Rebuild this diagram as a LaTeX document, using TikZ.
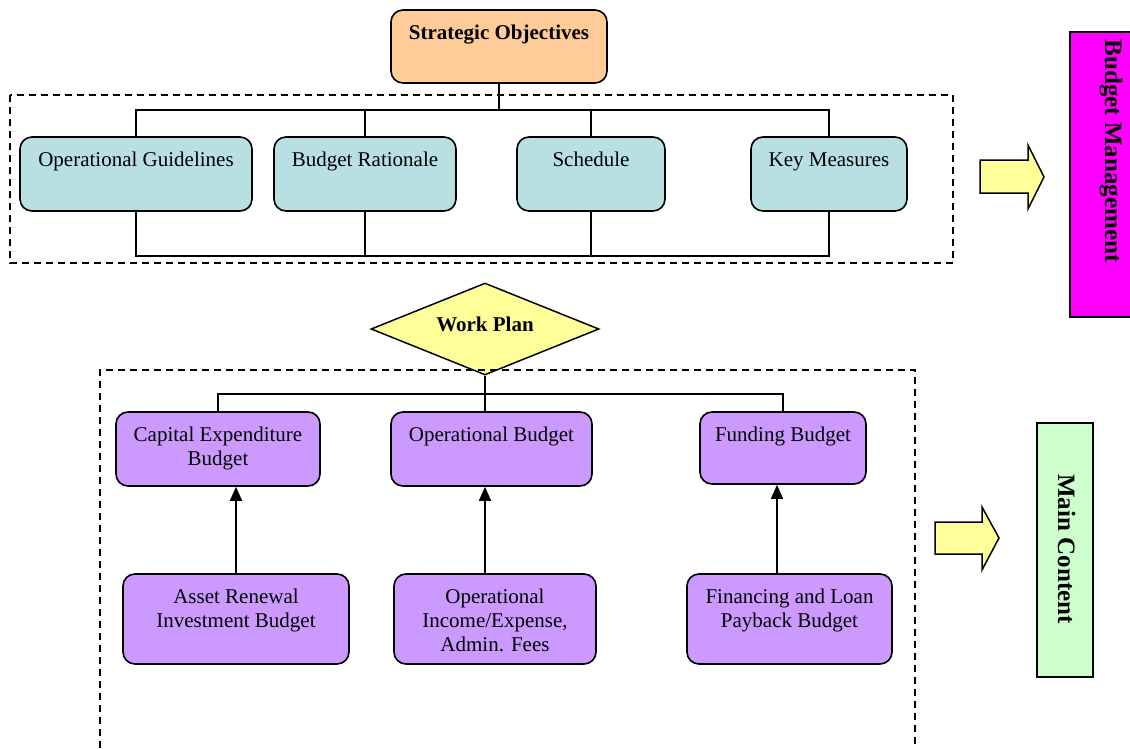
\documentclass[tikz,border=0pt]{standalone}
\usepackage{fontspec}
\setmainfont{Liberation Serif}
\usetikzlibrary{shapes.geometric,arrows.meta}
\definecolor{soorange}{RGB}{255,204,153}
\definecolor{paleteal}{RGB}{184,223,226}
\definecolor{lilac}{RGB}{204,153,255}
\definecolor{paleyellow}{RGB}{255,255,153}
\definecolor{vividmagenta}{RGB}{255,0,255}
\definecolor{mint}{RGB}{204,255,204}

\begin{document}
\begin{tikzpicture}[x=1pt,y=-1pt,
  every node/.style={font=\fontsize{21}{24}\selectfont},
  box/.style={draw, line width=1.6pt, rounded corners=12pt, inner sep=0pt},
  objbox/.style={box, fill=soorange},
  guidebox/.style={box, fill=paleteal, minimum height=74pt},
  budgetbox/.style={box, fill=lilac},
  sidebox/.style={draw, line width=1.6pt, inner sep=0pt},
  boxtext/.style={inner sep=0pt, align=center, anchor=north},
  sidetext/.style={inner sep=0pt, rotate=-90, anchor=base, font=\fontsize{25}{30}\selectfont\bfseries},
  conn/.style={line width=1.5pt},
  uparrow/.style={conn, -{Triangle[length=14pt,width=12pt]}},
  frame/.style={line width=1.5pt, dash pattern=on 7pt off 5pt},
  blockarrow/.style={draw, line width=1.5pt, fill=paleyellow, line join=miter}
]
\useasboundingbox (0,0) rectangle (1130,748);

% ---------- upper group: objectives and guidance ----------
\draw[frame] (10,95) rectangle (953,263);

\node[objbox, minimum width=216pt, minimum height=73pt] (so) at (499,46.5) {};
\node[boxtext, font=\fontsize{21}{24}\selectfont\bfseries] (sot) at ([yshift=-16pt]so.north) {Strategic Objectives};

\node[guidebox, minimum width=232pt] (og)  at (136,174) {};
\node[guidebox, minimum width=182pt] (br)  at (365,174) {};
\node[guidebox, minimum width=148pt] (sch) at (591,174) {};
\node[guidebox, minimum width=156pt] (km)  at (829,174) {};
\node[boxtext] (ogt)  at ([yshift=-16pt]og.north)  {Operational Guidelines};
\node[boxtext] (brt)  at ([yshift=-16pt]br.north)  {Budget Rationale};
\node[boxtext] (scht) at ([yshift=-16pt]sch.north) {Schedule};
\node[boxtext] (kmt)  at ([yshift=-16pt]km.north)  {Key Measures};

% distribution bus above the guidance boxes
\coordinate (topbus) at (0,110);
\draw[conn] (so.south) -- (so.south |- topbus);
\draw[conn] (og.north) |- (km.north |- topbus) -- (km.north);
\draw[conn] (br.north) -- (br.north |- topbus);
\draw[conn] (sch.north) -- (sch.north |- topbus);

% collecting bus below the guidance boxes
\coordinate (lowbus) at (0,256);
\draw[conn] (og.south) |- (km.south |- lowbus) -- (km.south);
\draw[conn] (br.south) -- (br.south |- lowbus);
\draw[conn] (sch.south) -- (sch.south |- lowbus);

% ---------- work plan ----------
\node[draw, line width=1.5pt, fill=paleyellow, diamond, aspect=2.5,
      minimum width=228pt, minimum height=92pt, inner sep=0pt,
      font=\fontsize{21}{24}\selectfont\bfseries] (wp) at (485,329) {\raisebox{9pt}{Work Plan}};

% ---------- lower group: budget contents ----------
\draw[frame] (100,748) -- (100,370) -- (915,370) -- (915,748);

\node[budgetbox, minimum width=204pt, minimum height=74pt] (ceb) at (218,449) {};
\node[budgetbox, minimum width=201pt, minimum height=74pt] (ob)  at (491.5,449) {};
\node[budgetbox, minimum width=166pt, minimum height=72pt] (fb)  at (783,448) {};
\node[boxtext] (cebt) at ([yshift=-16pt]ceb.north) {Capital Expenditure\\Budget};
\node[boxtext] (obt)  at ([yshift=-16pt]ob.north)  {Operational Budget};
\node[boxtext] (fbt)  at ([yshift=-16pt]fb.north)  {Funding Budget};

\node[budgetbox, minimum width=226pt, minimum height=90pt] (arib) at (236,619) {};
\node[budgetbox, minimum width=202pt, minimum height=90pt] (oie)  at (495,619) {};
\node[budgetbox, minimum width=205pt, minimum height=90pt] (flpb) at (789.5,619) {};
\node[boxtext] (aribt) at ([yshift=-16pt]arib.north) {Asset Renewal\\Investment Budget};
\node[boxtext] (oiet)  at ([yshift=-16pt]oie.north)  {Operational\\Income/Expense,\\Admin. Fees};
\node[boxtext] (flpbt) at ([yshift=-16pt]flpb.north) {Financing and Loan\\Payback Budget};

% bus from the work plan to the three budgets
\coordinate (planbus) at (0,394);
\draw[conn] (wp.south) -- (wp.south |- ob.north);
\draw[conn] (ceb.north) |- (fb.north |- planbus) -- (fb.north);

% feeding arrows
\draw[uparrow] (arib.north) -- (arib.north |- ceb.south);
\draw[uparrow] (wp.south |- oie.north) -- (wp.south |- ob.south);
\draw[uparrow] ([xshift=-6pt]fb.south |- flpb.north) -- ([xshift=-6pt]fb.south);

% ---------- side labels with block arrows ----------
\draw[blockarrow] (980,160) -- (1028,160) -- (1028,145) -- (1044,177)
  -- (1028,209) -- (1028,193) -- (980,193) -- cycle;
\node[sidebox, fill=vividmagenta, minimum width=62pt, minimum height=285pt] (bm) at (1101,174.5) {};
\node[sidetext] (bmt) at (1105,151) {Budget Management};

\draw[blockarrow] (935,522) -- (982,522) -- (982,507) -- (999,538)
  -- (982,570) -- (982,554) -- (935,554) -- cycle;
\node[sidebox, fill=mint, minimum width=56pt, minimum height=254pt] (mc) at (1065,550) {};
\node[sidetext] (mct) at (1058,549) {Main Content};
\end{tikzpicture}
\end{document}
